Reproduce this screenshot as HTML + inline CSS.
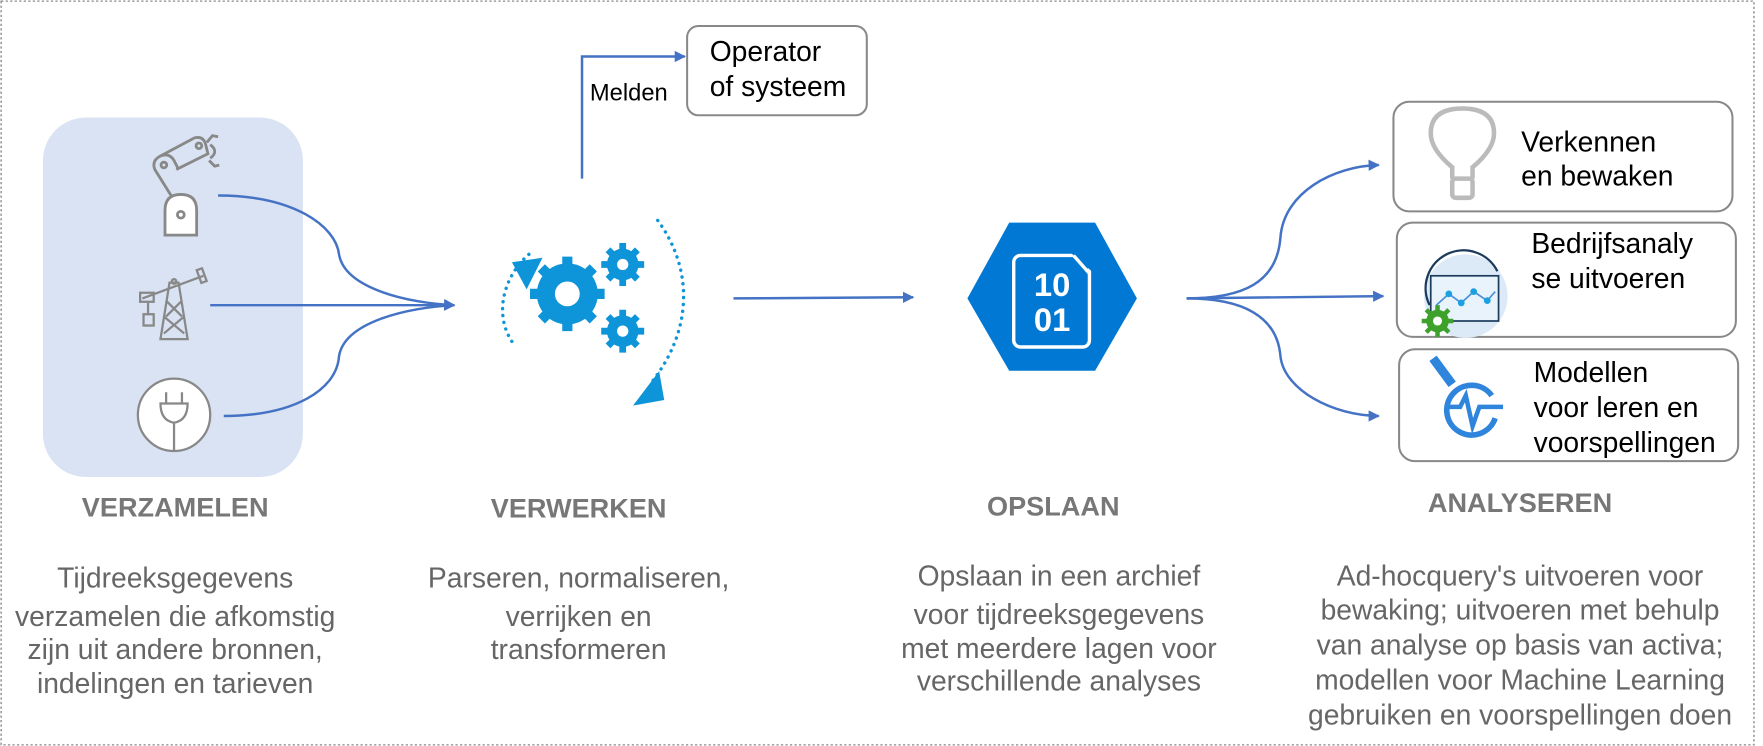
<!DOCTYPE html>
<html><head><meta charset="utf-8"><style>html,body{margin:0;padding:0;background:#fff}svg{display:block}</style></head>
<body>
<svg width="1763" height="746" viewBox="0 0 1560 660" preserveAspectRatio="none" xmlns="http://www.w3.org/2000/svg" font-family="Liberation Sans, sans-serif">
<defs>
<marker id="ar" markerWidth="10" markerHeight="10" refX="9" refY="5" orient="auto" markerUnits="userSpaceOnUse"><path d="M0,0 L10,5 L0,10 Z" fill="#4472c4"/></marker>
</defs>
<rect x="1" y="1" width="1551" height="658" fill="none" stroke="#888" stroke-width="1.2" stroke-dasharray="2,2"/>
<rect x="38" y="104" width="230" height="318" rx="38" fill="#dae3f3"/>
<!-- robot arm -->
<g fill="none" stroke="#888" stroke-width="2.5">
<path d="M146,208 L146,186 Q146,172 160,172 Q174,172 174,186 L174,208 Z" fill="#fff"/>
<circle cx="160" cy="190" r="3"/>
<path d="M152,174 L137,150 Q134,142 142,138 Q150,135 154,142 L158,150"/>
<path d="M142,138 L172,122 Q180,120 182,128 L184,136 L156,150"/>
<circle cx="145" cy="146" r="2.5"/><circle cx="176" cy="129" r="2.5"/>
<path d="M183,126 L188,120 L193,121 M185,142 L190,147 L194,146 M186,128 Q194,134 186,140"/>
</g>
<!-- oil pump -->
<g fill="none" stroke="#888" stroke-width="2">
<path d="M142,300 L150,250 L158,250 L166,300 Z M145,280 L163,295 M163,280 L145,295 M147,266 L161,280 M161,266 L147,280"/>
<rect x="127" y="278" width="9" height="10"/>
<path d="M131,278 L131,268 M126,264 L180,244"/><rect x="124" y="259" width="12" height="8"/>
<rect x="176" y="238" width="5" height="12" transform="rotate(-20 178 244)"/>
<circle cx="154" cy="249" r="2"/>
</g>
<!-- plug -->
<g fill="none" stroke="#888" stroke-width="2">
<circle cx="154" cy="367" r="32" fill="#fff"/>
<path d="M147,347 L147,357 M161,347 L161,357 M142,357 L166,357 Q166,372 154,374 Q142,372 142,357 Z M154,374 L154,399"/>
</g>
<g fill="none" stroke="#4472c4" stroke-width="2.2">
<path d="M193,173 C260,173 297,200 300,225 C305,255 360,268 402,270" marker-end="url(#ar)"/>
<path d="M186,270 L402,270" marker-end="url(#ar)"/>
<path d="M198,368 C260,368 298,345 300,315 C305,285 360,272 402,270"/>
<path d="M515,158 L515,50 L606,50" marker-end="url(#ar)"/>
<path d="M649,264 L808,263" marker-end="url(#ar)"/>
<path d="M1050,264 C1100,264 1130,250 1133,210 C1136,170 1180,147 1220,146" marker-end="url(#ar)"/>
<path d="M1050,264 L1224,262" marker-end="url(#ar)"/>
<path d="M1050,264 C1100,264 1130,280 1133,315 C1136,345 1180,368 1220,368" marker-end="url(#ar)"/>
</g>
<text x="522" y="89" font-size="21" fill="#000">Melden</text>
<rect x="608" y="23" width="159" height="79" rx="10" fill="#fff" stroke="#888" stroke-width="1.8"/>
<text x="628" y="54" font-size="25" fill="#000">Operator</text>
<text x="628" y="85" font-size="25" fill="#000">of systeem</text>
<!-- gears -->
<g fill="#0e94d8">
<circle cx="502" cy="260" r="27"/>
<g stroke="#0e94d8" stroke-width="9"><path d="M502,227 L502,293 M469,260 L535,260 M479,237 L525,283 M525,237 L479,283"/></g>
<circle cx="502" cy="260" r="11" fill="#fff"/>
<circle cx="551" cy="234" r="14"/>
<g stroke="#0e94d8" stroke-width="6"><path d="M551,215 L551,253 M532,234 L570,234 M538,221 L564,247 M564,221 L538,247"/></g>
<circle cx="551" cy="234" r="5" fill="#fff"/>
<circle cx="551" cy="293" r="14"/>
<g stroke="#0e94d8" stroke-width="6"><path d="M551,274 L551,312 M532,293 L570,293 M538,280 L564,306 M564,280 L538,306"/></g>
<circle cx="551" cy="293" r="5" fill="#fff"/>
</g>
<g fill="none" stroke="#0e94d8" stroke-width="3" stroke-dasharray="0.1,6" stroke-linecap="round">
<path d="M468,225 C445,245 436,280 455,305"/>
<path d="M582,195 C615,240 612,295 575,340"/>
</g>
<path d="M453,232 L480,228 L466,256 Z" fill="#0e94d8"/>
<path d="M586,330 L586,356 L558,356 Z" fill="#0e94d8" transform="rotate(-10 575 345)"/>
<!-- hexagon -->
<path d="M893,197 L969,197 L1006,264 L969,328 L893,328 L856,264 Z" fill="#0078d4"/>
<rect x="897" y="226" width="67" height="81" rx="6" fill="none" stroke="#fff" stroke-width="3"/>
<path d="M948,224 L966,240 L966,222 Z" fill="#0078d4"/>
<path d="M950,226 L964,242" stroke="#fff" stroke-width="3"/>
<text x="931" y="262" font-size="29" font-weight="bold" fill="#fff" text-anchor="middle">10</text>
<text x="931" y="293" font-size="29" font-weight="bold" fill="#fff" text-anchor="middle">01</text>
<g fill="#fff" stroke="#888" stroke-width="1.8">
<rect x="1233" y="90" width="300" height="97" rx="14"/>
<rect x="1236" y="197" width="300" height="101" rx="14"/>
<rect x="1238" y="309" width="300" height="99" rx="14"/>
</g>
<g fill="none" stroke="#bbb" stroke-width="4">
<path d="M1285,158 L1285,148 Q1266,132 1266,118 Q1266,96 1294,96 Q1322,96 1322,118 Q1322,132 1303,148 L1303,158"/>
<rect x="1285" y="158" width="18" height="17" rx="3"/>
</g>
<circle cx="1297" cy="262" r="37" fill="#dce9f7"/>
<path d="M1265,270 A30,30 0 0 1 1325,240" fill="none" stroke="#1b3a5c" stroke-width="2"/>
<rect x="1266" y="244" width="60" height="40" fill="#e9f3fb" stroke="#1b3a5c" stroke-width="1.5"/>
<polyline points="1271,270 1282,260 1293,268 1304,258 1316,266 1323,258" fill="none" stroke="#4b90d8" stroke-width="1.5"/>
<g fill="#1ba1e2"><circle cx="1282" cy="260" r="3"/><circle cx="1293" cy="268" r="3"/><circle cx="1304" cy="258" r="3"/><circle cx="1316" cy="266" r="3"/></g>
<circle cx="1272" cy="284" r="10" fill="#3ea12c"/>
<g stroke="#3ea12c" stroke-width="4"><path d="M1272,270 L1272,298 M1258,284 L1286,284 M1262,274 L1282,294 M1282,274 L1262,294"/></g>
<circle cx="1272" cy="284" r="4" fill="#fff"/>
<g stroke="#2f85dc" fill="none" stroke-width="5">
<path d="M1268,317 L1285,340" stroke-width="8"/>
<path d="M1323,370 A22,22 0 1 1 1320,350"/>
<polyline points="1282,360 1292,360 1297,350 1303,377 1309,360 1330,360" stroke-width="4"/>
</g>
<g font-size="25" fill="#000">
<text x="1346" y="134">Verkennen</text>
<text x="1346" y="164">en bewaken</text>
<text x="1355" y="224">Bedrijfsanaly</text>
<text x="1355" y="255">se uitvoeren</text>
<text x="1357" y="338">Modellen</text>
<text x="1357" y="369">voor leren en</text>
<text x="1357" y="400">voorspellingen</text>
</g>
<g font-size="24" font-weight="bold" fill="#777" text-anchor="middle">
<text x="155" y="457">VERZAMELEN</text>
<text x="512" y="458">VERWERKEN</text>
<text x="932" y="456">OPSLAAN</text>
<text x="1345" y="453">ANALYSEREN</text>
</g>
<g font-size="25" fill="#666" text-anchor="middle">
<text x="155" y="520">Tijdreeksgegevens</text>
<text x="155" y="554">verzamelen die afkomstig</text>
<text x="155" y="583">zijn uit andere bronnen,</text>
<text x="155" y="613">indelingen en tarieven</text>
<text x="512" y="520">Parseren, normaliseren,</text>
<text x="512" y="554">verrijken en</text>
<text x="512" y="583">transformeren</text>
<text x="937" y="518">Opslaan in een archief</text>
<text x="937" y="552">voor tijdreeksgegevens</text>
<text x="937" y="582">met meerdere lagen voor</text>
<text x="937" y="611">verschillende analyses</text>
<text x="1345" y="518">Ad-hocquery's uitvoeren voor</text>
<text x="1345" y="548">bewaking; uitvoeren met behulp</text>
<text x="1345" y="579">van analyse op basis van activa;</text>
<text x="1345" y="610">modellen voor Machine Learning</text>
<text x="1345" y="641">gebruiken en voorspellingen doen</text>
</g>
</svg>
</body></html>
